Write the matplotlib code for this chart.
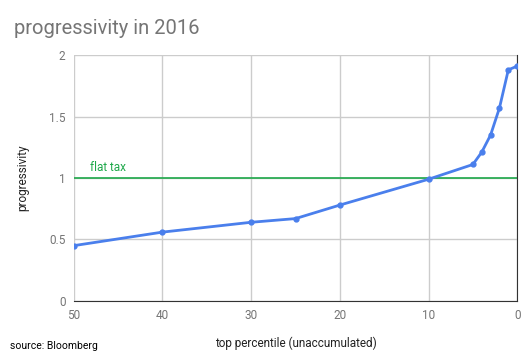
import matplotlib
matplotlib.use("Agg")
import matplotlib.pyplot as plt

# data
percentile = [50, 40, 30, 25, 20, 10, 5, 4, 3, 2, 1, 0]
progressivity = [0.45, 0.56, 0.64, 0.67, 0.78, 0.99, 1.11, 1.21, 1.35, 1.57, 1.88, 1.91]
flat_tax = 1.0
xticks = [50, 40, 30, 20, 10, 0]
yticks = [0, 0.5, 1, 1.5, 2]
ytick_labels = ["0", "0.5", "1", "1.5", "2"]

plt.rcParams["font.family"] = ["Roboto", "DejaVu Sans"]
grey = "#757575"

fig = plt.figure(figsize=(5.31, 3.6), dpi=100)
ax = fig.add_axes([0.139, 0.164, 0.835, 0.683])

ax.axhline(flat_tax, color="#1ea84a", lw=1.2, zorder=2)
ax.text(48.2, 1.03, "flat tax", color="#1ea84a", fontsize=8.5, va="bottom")
ax.plot(percentile, progressivity, color="#4a7fec", lw=2, marker="o", ms=3.5, zorder=3)

ax.set_xlim(50, 0)
ax.set_ylim(0, 2)
ax.set_xticks(xticks)
ax.set_yticks(yticks)
ax.set_yticklabels(ytick_labels)
ax.grid(True, color="#cccccc", lw=1)
ax.set_axisbelow(True)

for s in ["top", "left"]:
    ax.spines[s].set_visible(False)
ax.spines["bottom"].set_color("#333333")
ax.spines["right"].set_color("#333333")
ax.tick_params(length=0, colors=grey, labelsize=8.5, pad=6)

ax.set_xlabel("top percentile (unaccumulated)", color="#222222", fontsize=8.5, labelpad=10)
ax.set_ylabel("progressivity", color="#222222", fontsize=8.5, labelpad=14)
fig.text(0.026, 0.905, "progressivity in 2016", color=grey, fontsize=14.5)
fig.text(0.019, 0.03, "source: Bloomberg", color="black", fontsize=7.5)

fig.savefig("out.png", dpi=100)
